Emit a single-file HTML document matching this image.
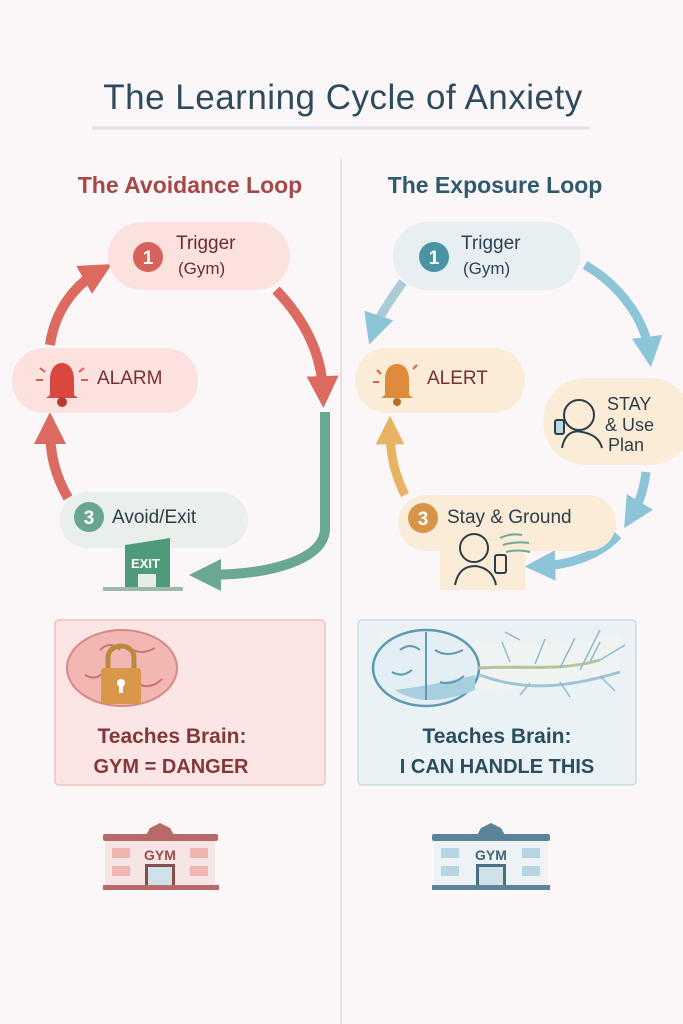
<!DOCTYPE html>
<html><head><meta charset="utf-8"><style>
html,body{margin:0;padding:0;background:#fbf7f9;}
svg{display:block;font-family:"Liberation Sans",sans-serif;}
</style></head><body>
<svg width="683" height="1024" viewBox="0 0 683 1024" xmlns="http://www.w3.org/2000/svg">
<defs>
<marker id="ar" viewBox="0 0 10 10" refX="5" refY="5" markerWidth="3.2" markerHeight="3.2" orient="auto"><path d="M0,0 L10,5 L0,10 z" fill="#dd6a60"/></marker>
<marker id="ag" viewBox="0 0 10 10" refX="5" refY="5" markerWidth="3.2" markerHeight="3.2" orient="auto"><path d="M0,0 L10,5 L0,10 z" fill="#6aa891"/></marker>
<marker id="ab" viewBox="0 0 10 10" refX="5" refY="5" markerWidth="3.4" markerHeight="3.4" orient="auto"><path d="M0,0 L10,5 L0,10 z" fill="#8cc4d8"/></marker>
<marker id="ao" viewBox="0 0 10 10" refX="5" refY="5" markerWidth="3.2" markerHeight="3.2" orient="auto"><path d="M0,0 L10,5 L0,10 z" fill="#e8b464"/></marker>
</defs>
<rect width="683" height="1024" fill="#fbf7f9"/>
<text x="343" y="109" text-anchor="middle" font-size="35" letter-spacing="0.5" fill="#2d4b5c">The Learning Cycle of Anxiety</text>
<line x1="92" y1="128" x2="590" y2="128" stroke="#dde3e6" stroke-width="3"/>
<line x1="341" y1="158" x2="341" y2="1024" stroke="#e6e2e4" stroke-width="2"/>
<text x="190" y="193" text-anchor="middle" font-size="23" font-weight="bold" fill="#a64848">The Avoidance Loop</text>
<text x="495" y="193" text-anchor="middle" font-size="23" font-weight="bold" fill="#2f5a6e">The Exposure Loop</text>

<!-- LEFT arrows -->
<path d="M276,290 C305,320 322,355 323,392" stroke="#dd6a60" stroke-width="10" fill="none" marker-end="url(#ar)"/>
<path d="M325,412 L325,530 C323,560 270,575 205,575" stroke="#6aa891" stroke-width="10" fill="none" marker-end="url(#ag)"/>
<path d="M68,498 C55,475 50,455 50,428" stroke="#dd6a60" stroke-width="10" fill="none" marker-end="url(#ar)"/>
<path d="M50,345 C55,310 75,285 98,272" stroke="#dd6a60" stroke-width="10" fill="none" marker-end="url(#ar)"/>

<!-- LEFT nodes -->
<rect x="108" y="222" width="182" height="68" rx="34" fill="#fbe2df"/>
<circle cx="148" cy="257" r="15" fill="#d8625a"/>
<text x="148" y="264" text-anchor="middle" font-size="19" font-weight="bold" fill="#fff">1</text>
<text x="176" y="249" font-size="19" fill="#6a2c2c">Trigger</text>
<text x="178" y="274" font-size="17" fill="#6a2c2c">(Gym)</text>

<rect x="12" y="348" width="186" height="65" rx="32" fill="#fbe2df"/>
<path d="M50,395 L50,380 C50,368 56,363 62,363 C68,363 74,368 74,380 L74,395 L78,398 L46,398 z" fill="#d9473f"/>
<circle cx="62" cy="402" r="5" fill="#b83a34"/>
<g stroke="#e05a50" stroke-width="2"><line x1="36" y1="380" x2="43" y2="380"/><line x1="81" y1="380" x2="88" y2="380"/><line x1="40" y1="368" x2="45" y2="372"/><line x1="84" y1="368" x2="79" y2="372"/></g>
<text x="97" y="384" font-size="19" fill="#7a2e2e">ALARM</text>

<rect x="60" y="492" width="188" height="56" rx="28" fill="#e9efea"/>
<circle cx="89" cy="517" r="15" fill="#6aa592"/>
<text x="89" y="524" text-anchor="middle" font-size="19" font-weight="bold" fill="#fff">3</text>
<text x="112" y="523" font-size="19" fill="#2e3e48">Avoid/Exit</text>
<path d="M125,545 L170,538 L170,588 L125,588 z" fill="#4f9a7b"/>
<text x="131" y="568" font-size="13" font-weight="bold" fill="#fff">EXIT</text>
<rect x="138" y="574" width="18" height="14" fill="#e6ede8"/>
<rect x="103" y="587" width="80" height="4" fill="#9bb8aa"/>

<!-- Box left -->
<rect x="55" y="620" width="270" height="165" rx="4" fill="#fbe6e5" stroke="#f0c2bd" stroke-width="1.5"/>
<ellipse cx="122" cy="668" rx="55" ry="38" fill="#f2b7b2" stroke="#d58a86" stroke-width="2"/>
<path d="M100,650 q10,-10 20,0 M130,648 q10,8 25,0 M85,675 q10,6 18,-2 M140,685 q12,4 22,-6" stroke="#c97672" stroke-width="2" fill="none"/>
<path d="M108,672 L108,658 C108,642 134,642 134,658 L134,672" stroke="#b88a3e" stroke-width="5" fill="none"/>
<rect x="101" y="668" width="40" height="36" rx="3" fill="#d9974a"/>
<circle cx="121" cy="683" r="4" fill="#fff"/><rect x="119" y="684" width="4" height="9" fill="#fff"/>
<text x="172" y="743" text-anchor="middle" font-size="21" font-weight="bold" fill="#823838">Teaches Brain:</text>
<text x="171" y="773" text-anchor="middle" font-size="20" font-weight="bold" fill="#823838">GYM = DANGER</text>

<!-- Gym left -->
<path d="M145,837 L150,828 L160,823 L170,828 L175,837 z" fill="#b86a68"/>
<rect x="105" y="840" width="110" height="46" fill="#f5e5e4"/>
<rect x="103" y="834" width="115" height="7" rx="2" fill="#b86a68"/>
<rect x="112" y="848" width="18" height="10" fill="#f0b5b0"/><rect x="190" y="848" width="18" height="10" fill="#f0b5b0"/>
<rect x="112" y="866" width="18" height="10" fill="#f0b5b0"/><rect x="190" y="866" width="18" height="10" fill="#f0b5b0"/>
<text x="160" y="860" text-anchor="middle" font-size="14" font-weight="bold" fill="#9a4c4c">GYM</text>
<rect x="145" y="864" width="30" height="24" fill="#8a4c4c"/><rect x="148" y="867" width="24" height="21" fill="#cfe2ea"/>
<rect x="103" y="885" width="116" height="5" fill="#b86a68"/>

<!-- RIGHT arrows -->
<path d="M403,282 C390,300 378,318 374,330" stroke="#a9ccd8" stroke-width="9" fill="none" marker-end="url(#ab)"/>
<path d="M585,265 C620,285 645,320 649,352" stroke="#8cc4d8" stroke-width="9" fill="none" marker-end="url(#ab)"/>
<path d="M646,472 C644,490 638,505 632,515" stroke="#8cc4d8" stroke-width="9" fill="none" marker-end="url(#ab)"/>
<path d="M618,535 C600,555 570,565 540,566" stroke="#8cc4d8" stroke-width="9" fill="none" marker-end="url(#ab)"/>
<path d="M405,495 C395,475 390,455 390,430" stroke="#e8b464" stroke-width="9" fill="none" marker-end="url(#ao)"/>

<!-- RIGHT nodes -->
<rect x="393" y="222" width="187" height="68" rx="34" fill="#e8eff2"/>
<circle cx="434" cy="257" r="15" fill="#4a93a5"/>
<text x="434" y="264" text-anchor="middle" font-size="19" font-weight="bold" fill="#fff">1</text>
<text x="461" y="249" font-size="19" fill="#2e4250">Trigger</text>
<text x="463" y="274" font-size="17" fill="#2e4250">(Gym)</text>

<rect x="355" y="348" width="170" height="65" rx="32" fill="#fbecd8"/>
<path d="M385,395 L385,380 C385,368 391,364 397,364 C403,364 409,368 409,380 L409,395 L413,398 L381,398 z" fill="#e08a3c"/>
<circle cx="397" cy="402" r="4" fill="#c06a2a"/>
<g stroke="#e06040" stroke-width="2"><line x1="373" y1="382" x2="379" y2="382"/><line x1="377" y1="370" x2="381" y2="374"/><line x1="413" y1="369" x2="417" y2="365"/></g>
<text x="427" y="384" font-size="19" fill="#7a2e2e">ALERT</text>

<rect x="543" y="378" width="150" height="87" rx="43" fill="#fbecd8"/>
<circle cx="579" cy="415" r="15" stroke="#2e3e48" stroke-width="2" fill="none"/>
<path d="M562,448 C565,432 575,430 582,432 C594,434 600,440 602,448" stroke="#2e3e48" stroke-width="2" fill="none"/>
<rect x="555" y="420" width="9" height="14" rx="2" stroke="#2e3e48" stroke-width="2" fill="#bcd7e0"/>
<text x="607" y="410" font-size="18" fill="#2e3e48">STAY</text>
<text x="605" y="431" font-size="18" fill="#2e3e48">&amp; Use</text>
<text x="608" y="451" font-size="18" fill="#2e3e48">Plan</text>

<rect x="398" y="495" width="218" height="56" rx="28" fill="#fbecd8"/>
<rect x="440" y="530" width="85" height="60" fill="#fbecd8"/>
<circle cx="423" cy="518" r="15" fill="#d8954a"/>
<text x="423" y="525" text-anchor="middle" font-size="19" font-weight="bold" fill="#fff">3</text>
<text x="447" y="523" font-size="19" fill="#2e3e48">Stay &amp; Ground</text>
<circle cx="474" cy="548" r="14" stroke="#2e3e48" stroke-width="2" fill="none"/>
<path d="M455,585 C458,570 466,566 476,566 C488,568 494,575 496,585" stroke="#2e3e48" stroke-width="2" fill="none"/>
<rect x="495" y="555" width="11" height="18" rx="2" stroke="#2e3e48" stroke-width="2" fill="#fbecd8"/>
<g stroke="#6aaa9a" stroke-width="2" fill="none"><path d="M500,538 q10,-5 22,-3"/><path d="M503,545 q12,-4 26,-2"/><path d="M506,552 q12,-3 24,0"/></g>

<!-- Box right -->
<rect x="358" y="620" width="278" height="165" rx="4" fill="#ebf2f5" stroke="#c7dce6" stroke-width="1.5"/>
<path d="M380,630 q100,25 240,5 l0,40 q-120,30 -240,0 z" fill="#f2f4ee" opacity="0.6"/>
<ellipse cx="426" cy="668" rx="53" ry="38" fill="#e3eff5" stroke="#5d9ab2" stroke-width="2.5"/>
<path d="M395,690 q30,20 80,0 l0,-15 q-40,10 -80,15z" fill="#a8cfe0"/>
<path d="M426,632 L426,700 M400,650 q10,-8 20,0 M435,650 q12,8 28,0 M392,672 q10,6 20,-2 M440,682 q12,4 24,-6" stroke="#5d9ab2" stroke-width="2" fill="none"/>
<g stroke-width="3" fill="none">
<path d="M478,668 C520,665 560,672 600,660" stroke="#b7c49a"/>
<path d="M480,675 C520,690 560,690 620,672" stroke="#9ec4d6"/>
</g>
<g stroke="#8ebcd2" stroke-width="1.5" fill="none">
<path d="M510,662 l-8,-20 M535,664 l10,-25 M560,668 l15,-30 M590,662 l10,-20 M600,660 l25,-15 M560,682 l10,15 M530,683 l-10,12 M600,676 l15,15 M580,670 l20,-40 M520,640 l-15,-8"/>
</g>
<text x="497" y="743" text-anchor="middle" font-size="21" font-weight="bold" fill="#2b4d60">Teaches Brain:</text>
<text x="497" y="773" text-anchor="middle" font-size="20" font-weight="bold" fill="#2b4d60">I CAN HANDLE THIS</text>

<!-- Gym right -->
<path d="M476,837 L481,828 L491,823 L501,828 L506,837 z" fill="#5a849a"/>
<rect x="434" y="840" width="114" height="46" fill="#edf2f5"/>
<rect x="432" y="834" width="118" height="7" rx="2" fill="#5a849a"/>
<rect x="441" y="848" width="18" height="10" fill="#b5d5e5"/><rect x="522" y="848" width="18" height="10" fill="#b5d5e5"/>
<rect x="441" y="866" width="18" height="10" fill="#b5d5e5"/><rect x="522" y="866" width="18" height="10" fill="#b5d5e5"/>
<text x="491" y="860" text-anchor="middle" font-size="14" font-weight="bold" fill="#3d6478">GYM</text>
<rect x="476" y="864" width="30" height="24" fill="#4a6e80"/><rect x="479" y="867" width="24" height="21" fill="#cfe2ea"/>
<rect x="432" y="885" width="118" height="5" fill="#5a849a"/>
</svg>
</body></html>
